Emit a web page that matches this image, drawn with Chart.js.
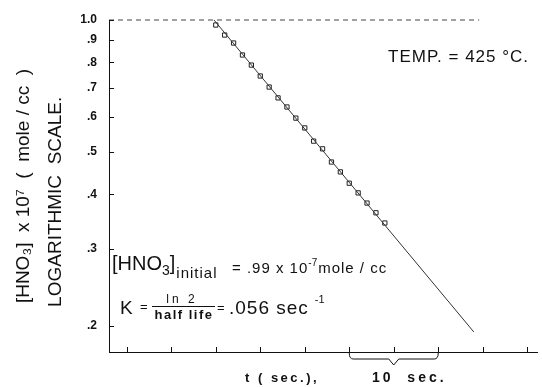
<!DOCTYPE html>
<html>
<head>
<meta charset="utf-8">
<script src="https://cdn.jsdelivr.net/npm/chart.js@4"></script>
<style>
  body { margin: 0; background: #fff; }
</style>
</head>
<body>
<canvas id="myChart" width="542" height="387"></canvas>
<script>
// datos
const xTickValues = [5, 10, 15, 20, 25, 30, 35, 40, 45, 50];
const yTickValues = [0.2, 0.3, 0.4, 0.5, 0.6, 0.7, 0.8, 0.9, 1.0];
const tiempos = [15, 16, 17, 18, 19, 20, 21, 22, 23, 24, 25, 26, 27, 28, 29, 30, 31, 32, 33, 34];
const concentraciones = [0.974, 0.924, 0.886, 0.832, 0.789, 0.745, 0.703, 0.664, 0.633, 0.597,
                         0.567, 0.529, 0.508, 0.474, 0.450, 0.424, 0.403, 0.382, 0.363, 0.344];
const ajusteTiempos = [14.8, 44];
const ajusteValores = [1.0, 0.194];
const marcoTiempos = [3, 44.6];
const marcoValores = [1.0, 1.0];
const llaveTiempos = [30, 40]; // "10 sec."

const FONT = '"Liberation Sans", Arial, sans-serif';

const anotaciones = {
    id: 'anotaciones',
    afterDraw(chart) {
        const { ctx, chartArea, scales: { x, y } } = chart;
        ctx.save();
        ctx.strokeStyle = '#111';
        ctx.fillStyle = '#111';
        ctx.lineWidth = 1;

        // marcas de los ejes hacia adentro
        ctx.beginPath();
        y.ticks.forEach(t => {
            const py = Math.round(y.getPixelForValue(t.value)) + 0.5;
            ctx.moveTo(chartArea.left, py);
            ctx.lineTo(chartArea.left + 5, py);
        });
        x.ticks.forEach(t => {
            const px = Math.round(x.getPixelForValue(t.value)) + 0.5;
            ctx.moveTo(px, chartArea.bottom);
            ctx.lineTo(px, chartArea.bottom - 5);
        });
        ctx.stroke();

        // llave de 10 sec
        const b0 = x.getPixelForValue(llaveTiempos[0]);
        const b1 = x.getPixelForValue(llaveTiempos[1]);
        const bm = (b0 + b1) / 2;
        const yb = chartArea.bottom + 7;
        ctx.beginPath();
        ctx.moveTo(b0, chartArea.bottom + 1);
        ctx.quadraticCurveTo(b0, yb, b0 + 4, yb);
        ctx.lineTo(bm - 5, yb);
        ctx.lineTo(bm, yb + 6);
        ctx.lineTo(bm + 5, yb);
        ctx.lineTo(b1 - 4, yb);
        ctx.quadraticCurveTo(b1, yb, b1, chartArea.bottom + 1);
        ctx.stroke();

        const txt = (s, px, py, size, weight, spacing) => {
            ctx.font = `${weight || 'normal'} ${size}px ${FONT}`;
            ctx.letterSpacing = (spacing || 0) + 'px';
            ctx.fillText(s, px, py);
            return px + ctx.measureText(s).width;
        };

        ctx.textAlign = 'left';
        ctx.textBaseline = 'alphabetic';

        txt('TEMP. = 425 °C.', 388, 62, 17, 'normal', 1);

        // [HNO3]initial
        let cx = txt('[HNO', 112, 270, 20);
        cx = txt('3', cx, 275, 14);
        cx = txt(']', cx, 270, 20);
        txt('initial', cx + 1, 278, 15, 'normal', 1);
        cx = txt('= .99 x 10', 232, 273, 15, 'normal', 1);
        cx = txt('-7', cx, 266, 10);
        txt('mole / cc', cx + 1, 273, 15, 'normal', 1);

        // K = ln2 / half life
        txt('K', 120, 314, 19);
        txt('=', 140, 311, 13);
        ctx.textAlign = 'center';
        txt('ln 2', 182, 303, 12, 'normal', 3);
        txt('half life', 184, 319, 13, 'bold', 1.5);
        ctx.textAlign = 'left';
        ctx.beginPath();
        ctx.moveTo(152, 306.5);
        ctx.lineTo(215, 306.5);
        ctx.stroke();
        txt('=', 217, 312, 13);
        cx = txt('.056 sec', 229, 314, 19, 'normal', 1);
        txt('-1', cx + 6, 303, 11);

        // eje x
        txt('t ( sec.),', 245, 382, 13, 'bold', 2.5);
        txt('10  sec.', 372, 382, 14, 'bold', 3);

        ctx.restore();
    }
};

const ctx = document.getElementById('myChart').getContext('2d');
new Chart(ctx, {
    type: 'scatter',
    data: {
        datasets: [
            {
                label: 'marco',
                data: marcoTiempos.map((t, i) => ({ x: t, y: marcoValores[i] })),
                showLine: true,
                borderColor: '#444',
                borderWidth: 1,
                borderDash: [5, 4],
                pointRadius: 0,
                clip: false
            },
            {
                label: 'ajuste',
                data: ajusteTiempos.map((t, i) => ({ x: t, y: ajusteValores[i] })),
                showLine: true,
                borderColor: '#333',
                borderWidth: 1,
                pointRadius: 0,
                clip: false
            },
            {
                label: '[HNO3]',
                data: tiempos.map((t, i) => ({ x: t, y: concentraciones[i] })),
                showLine: false,
                pointStyle: 'rect',
                pointRadius: 3,
                borderColor: '#222',
                backgroundColor: '#fff',
                borderWidth: 1
            }
        ]
    },
    options: {
        responsive: false,
        animation: false,
        layout: { padding: { top: 20, left: 0, right: 0, bottom: 0 } },
        plugins: {
            legend: { display: false },
            tooltip: { enabled: false }
        },
        scales: {
            x: {
                type: 'linear',
                min: 3,
                max: 51.1,
                grid: { display: false, drawTicks: false },
                border: { display: true, color: '#111', width: 1 },
                ticks: { display: false },
                afterBuildTicks: (scale) => { scale.ticks = xTickValues.map(v => ({ value: v })); },
                afterFit: (scale) => { scale.height = 35; }
            },
            y: {
                type: 'logarithmic',
                min: 0.1746,
                max: 1.0,
                grid: { display: false, drawTicks: false },
                border: { display: true, color: '#111', width: 1 },
                ticks: {
                    padding: 12,
                    color: '#111',
                    font: { family: FONT, size: 12, weight: 'bold' },
                    callback: (v) => v === 1 ? '1.0' : '.' + Math.round(v * 10)
                },
                afterBuildTicks: (scale) => { scale.ticks = yTickValues.map(v => ({ value: v })); },
                afterFit: (scale) => { scale.width = 109; },
                title: {
                    display: true,
                    text: ['[HNO₃]  x 10⁷  (  mole / cc  )', 'LOGARITHMIC  SCALE.      '],
                    color: '#111',
                    font: { family: FONT, size: 19, lineHeight: '32px' },
                    padding: { top: 8, bottom: 0 }
                }
            }
        }
    },
    plugins: [anotaciones]
});
</script>
</body>
</html>
